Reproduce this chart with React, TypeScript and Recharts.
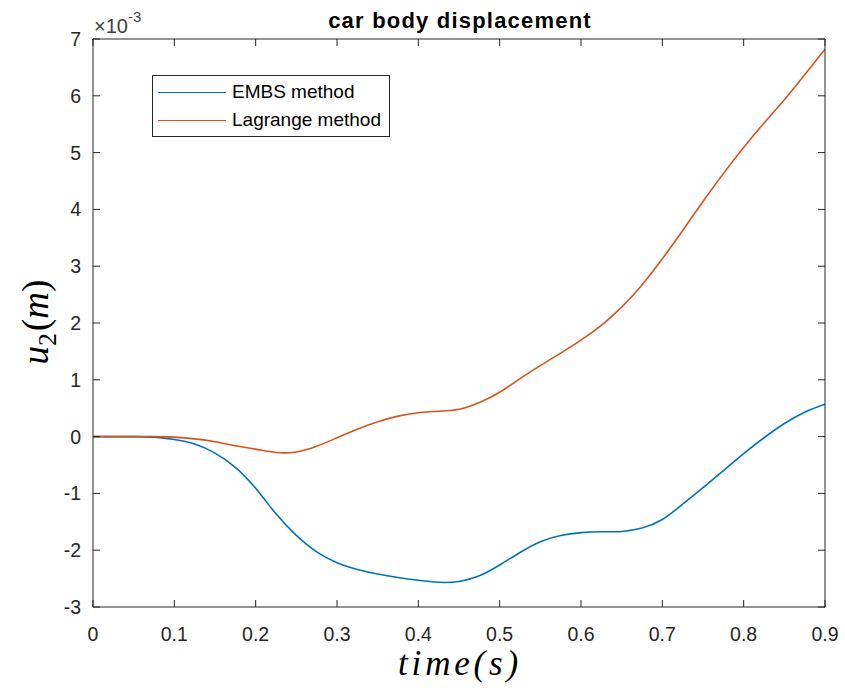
import React from 'react';
import { LineChart, Line, XAxis, YAxis, Legend, Customized } from 'recharts';

// time (s)
const time = [
  0, 0.025, 0.05, 0.075, 0.1, 0.125, 0.15, 0.175, 0.2, 0.225, 0.25, 0.275,
  0.3, 0.325, 0.35, 0.375, 0.4, 0.425, 0.45, 0.475, 0.5, 0.525, 0.55, 0.575,
  0.6, 0.625, 0.65, 0.675, 0.7, 0.725, 0.75, 0.775, 0.8, 0.825, 0.85, 0.875, 0.9,
];

// displacement in units of 1e-3 m
const embs = [
  0, 0, 0, -0.01, -0.05, -0.13, -0.29, -0.54, -0.91, -1.36, -1.74, -2.03,
  -2.22, -2.34, -2.42, -2.48, -2.53, -2.565, -2.55, -2.45, -2.26, -2.04, -1.85, -1.74,
  -1.69, -1.675, -1.67, -1.61, -1.46, -1.19, -0.9, -0.6, -0.3, -0.02, 0.23, 0.43, 0.57,
];

const lagrange = [
  0, 0, 0, 0, -0.01, -0.04, -0.09, -0.16, -0.22, -0.28, -0.27, -0.17,
  -0.02, 0.13, 0.26, 0.36, 0.42, 0.445, 0.48, 0.6, 0.78, 1.02, 1.25, 1.47,
  1.7, 1.96, 2.28, 2.67, 3.13, 3.63, 4.14, 4.63, 5.09, 5.52, 5.93, 6.37, 6.82,
];

const xTicks = [0, 0.1, 0.2, 0.3, 0.4, 0.5, 0.6, 0.7, 0.8, 0.9];
const yTicks = [-3, -2, -1, 0, 1, 2, 3, 4, 5, 6, 7];

const seriesNames = ['EMBS method', 'Lagrange method'];
const titleText = 'car body displacement';

const data = time.map((t, i) => ({ t, embs: embs[i], lagrange: lagrange[i] }));

const AXIS = '#262626';
const SANS = "'Liberation Sans', Arial, Helvetica, sans-serif";
const SERIF = "'Liberation Serif', 'Times New Roman', serif";
const TICK_LEN = 7;

const BottomTick = (props: any) => {
  const { x, y, payload } = props;
  return (
    <g>
      <line x1={x} y1={y} x2={x} y2={y - TICK_LEN} stroke={AXIS} strokeWidth={1} />
      <text x={x} y={y + 34} textAnchor="middle" fontSize={19.5} fill={AXIS} fontFamily={SANS}>
        {String(payload.value)}
      </text>
    </g>
  );
};

const TopTick = (props: any) => {
  const { x, y } = props;
  return <line x1={x} y1={y} x2={x} y2={y + TICK_LEN} stroke={AXIS} strokeWidth={1} />;
};

const LeftTick = (props: any) => {
  const { x, y, payload } = props;
  return (
    <g>
      <line x1={x} y1={y} x2={x + TICK_LEN} y2={y} stroke={AXIS} strokeWidth={1} />
      <text x={x - 12} y={y + 7} textAnchor="end" fontSize={19.5} fill={AXIS} fontFamily={SANS}>
        {String(payload.value)}
      </text>
    </g>
  );
};

const RightTick = (props: any) => {
  const { x, y } = props;
  return <line x1={x} y1={y} x2={x - TICK_LEN} y2={y} stroke={AXIS} strokeWidth={1} />;
};

const Annotations = () => (
  <g>
    <text x={460} y={28} textAnchor="middle" fontSize={22} fontWeight="bold" letterSpacing={1.2} fill="#000" fontFamily={SANS}>
      {titleText}
    </text>
    <text x={94} y={33} fontSize={20} fill="#404040" fontFamily={SANS}>
      ×10
      <tspan fontSize={15} dy={-11}>-3</tspan>
    </text>
    <text x={460} y={675} textAnchor="middle" fontSize={35} fontStyle="italic" letterSpacing={3.8} fill="#000" fontFamily={SERIF}>
      time(s)
    </text>
    <text x={0} y={0} transform="translate(48,322) rotate(-90)" textAnchor="middle" fontSize={37} fill="#000" fontFamily={SERIF}>
      <tspan fontStyle="italic">u</tspan>
      <tspan fontSize={26} dy={8}>2</tspan>
      <tspan dy={-8} dx={2}>(</tspan>
      <tspan fontStyle="italic">m</tspan>
      <tspan>)</tspan>
    </text>
  </g>
);

const renderLegend = (props: any) => {
  const payload = props.payload || [];
  return (
    <div
      style={{
        width: 238,
        height: 62,
        boxSizing: 'border-box',
        border: `1px solid ${AXIS}`,
        background: '#fff',
        position: 'relative',
      }}
    >
      {payload.map((e: any, i: number) => (
        <div
          key={i}
          style={{
            position: 'absolute',
            left: 5,
            top: 4 + i * 28,
            height: 24,
            display: 'flex',
            alignItems: 'center',
          }}
        >
          <div style={{ width: 68, height: 0, borderTop: `1.6px solid ${e.color}` }} />
          <span style={{ marginLeft: 6, fontSize: 19, fontFamily: SANS, color: '#000', lineHeight: '24px', whiteSpace: 'nowrap' }}>
            {e.value}
          </span>
        </div>
      ))}
    </div>
  );
};

export default function App() {
  return (
    <div style={{ position: 'absolute', left: 0, top: 0, width: 845, height: 695, background: '#fff' }}>
      <LineChart width={845} height={695} data={data} margin={{ top: 0, right: 0, bottom: 0, left: 0 }}>
        <XAxis
          xAxisId="b"
          dataKey="t"
          type="number"
          domain={[0, 0.9]}
          ticks={xTicks}
          interval={0}
          height={88}
          tickSize={0}
          tickMargin={0}
          tickLine={false}
          axisLine={{ stroke: AXIS, strokeWidth: 1 }}
          tick={(p: any) => <BottomTick {...p} />}
          allowDataOverflow
        />
        <XAxis
          xAxisId="t"
          dataKey="t"
          orientation="top"
          type="number"
          domain={[0, 0.9]}
          ticks={xTicks}
          interval={0}
          height={39}
          tickSize={0}
          tickMargin={0}
          tickLine={false}
          axisLine={{ stroke: AXIS, strokeWidth: 1 }}
          tick={(p: any) => <TopTick {...p} />}
          allowDataOverflow
        />
        <YAxis
          yAxisId="l"
          type="number"
          domain={[-3, 7]}
          ticks={yTicks}
          interval={0}
          width={93}
          tickSize={0}
          tickMargin={0}
          tickLine={false}
          axisLine={{ stroke: AXIS, strokeWidth: 1 }}
          tick={(p: any) => <LeftTick {...p} />}
          allowDataOverflow
        />
        <YAxis
          yAxisId="r"
          orientation="right"
          type="number"
          domain={[-3, 7]}
          ticks={yTicks}
          interval={0}
          width={20}
          tickSize={0}
          tickMargin={0}
          tickLine={false}
          axisLine={{ stroke: AXIS, strokeWidth: 1 }}
          tick={(p: any) => <RightTick {...p} />}
          allowDataOverflow
        />
        <Line
          xAxisId="b"
          yAxisId="l"
          type="natural"
          dataKey="embs"
          name={seriesNames[0]}
          stroke="#0072BD"
          strokeWidth={1.6}
          dot={false}
          isAnimationActive={false}
        />
        <Line
          xAxisId="b"
          yAxisId="l"
          type="natural"
          dataKey="lagrange"
          name={seriesNames[1]}
          stroke="#D95319"
          strokeWidth={1.6}
          dot={false}
          isAnimationActive={false}
        />
        <Legend
          layout="vertical"
          align="center"
          verticalAlign="middle"
          content={renderLegend}
          wrapperStyle={{ position: 'absolute', left: 152, top: 75, width: 238, height: 62 }}
        />
        <Customized component={Annotations} />
      </LineChart>
    </div>
  );
}
